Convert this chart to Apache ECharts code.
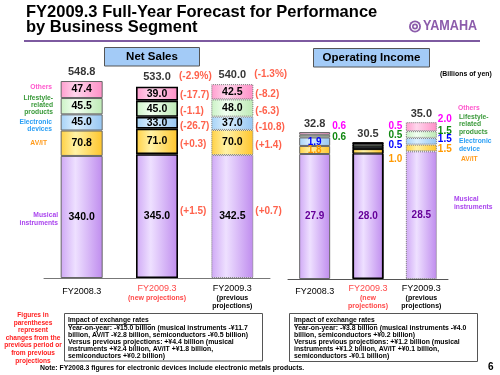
<!DOCTYPE html>
<html>
<head>
<meta charset="utf-8">
<script src="https://cdn.jsdelivr.net/npm/echarts@6/dist/echarts.min.js"></script>
<style>html,body{margin:0;padding:0;background:#fff}#c{width:500px;height:375px}</style>
</head>
<body>
<div id="c"></div>
<script>
// ---------- data ----------
const categories = ['FY2008.3', 'FY2009.3 (new projections)', 'FY2009.3 (previous projections)'];
const segmentNames = ['Musical instruments', 'AV/IT', 'Electronic devices', 'Lifestyle-related products', 'Others'];

const salesMusical    = [340.0, 345.0, 342.5];
const salesAVIT       = [70.8, 71.0, 70.0];
const salesElectronic = [45.0, 33.0, 37.0];
const salesLifestyle  = [45.5, 45.0, 48.0];
const salesOthers     = [47.4, 39.0, 42.5];
const salesTotal      = [548.8, 533.0, 540.0];
const salesTotalChange = [null, '(-2.9%)', '(-1.3%)'];

const chgMusical    = [null, '(+1.5)', '(+0.7)'];
const chgAVIT       = [null, '(+0.3)', '(+1.4)'];
const chgElectronic = [null, '(-26.7)', '(-10.8)'];
const chgLifestyle  = [null, '(-1.1)', '(-6.3)'];
const chgOthers     = [null, '(-17.7)', '(-8.2)'];

const incomeMusical    = [27.9, 28.0, 28.5];
const incomeAVIT       = [1.8, 1.0, 1.5];
const incomeElectronic = [1.9, 0.5, 1.5];
const incomeLifestyle  = [0.6, 0.5, 1.5];
const incomeOthers     = [0.6, 0.5, 2.0];
const incomeTotal      = [32.8, 30.5, 35.0];

// ---------- styles ----------
const FONT = '"Liberation Sans", Arial, sans-serif';
const grad = (a, b, c) => new echarts.graphic.LinearGradient(0, 0, 1, 0, [
  {offset: 0, color: a}, {offset: 0.35, color: b}, {offset: 1, color: c}]);
const segFill = [
  grad('#cfa8f5', '#eee0ff', '#bf8cee'),
  grad('#ffd043', '#fff2a6', '#ffc52b'),
  grad('#a6d2f6', '#daefff', '#96c6f2'),
  grad('#cbf2c5', '#f2fff1', '#bdeab5'),
  grad('#ff9dce', '#ffd6ec', '#ff8fc6')
];
const colBorderNS = [
  {borderColor: '#666', borderWidth: 1, borderType: 'solid'},
  {borderColor: '#000', borderWidth: 1.6, borderType: 'solid'},
  {borderColor: '#777', borderWidth: 1, borderType: 'dotted'}
];
const colBorderOI = [
  {borderColor: '#666', borderWidth: 1, borderType: 'solid'},
  {borderColor: '#000', borderWidth: 1, borderType: 'solid'},
  {borderColor: '#777', borderWidth: 1, borderType: 'dotted'}
];
const RED = '#ff3a1e';

const salesSeg = [salesMusical, salesAVIT, salesElectronic, salesLifestyle, salesOthers];
const chgSeg = [chgMusical, chgAVIT, chgElectronic, chgLifestyle, chgOthers];
const incomeSeg = [incomeMusical, incomeAVIT, incomeElectronic, incomeLifestyle, incomeOthers];

// label placement for operating income small segments (style only)
const incColors = ['#660099', '#ff9900', '#0000ff', '#118811', '#ff00ff'];
const incLabelPos = [
  [['inside', 0, 0], ['inside', 0, 0], ['inside', 0, 0]],
  [['inside', 0, 0], ['right', 4, 8], ['right', 0, 1]],
  [['inside', 0, 1], ['right', 4, -3], ['right', 0, -2]],
  [['right', 1, 1], ['right', 4, -10], ['right', 0, -3]],
  [['right', 1, -7], ['right', 4, -17], ['right', 0, -7]]
];
const chgOffset = [-5, 3, 4, 3, 2];

const series = [];
salesSeg.forEach((arr, s) => {
  series.push({
    name: segmentNames[s], type: 'bar', stack: 'ns', xAxisIndex: 0, yAxisIndex: 0,
    barWidth: 42,
    data: arr.map((v, i) => ({value: v, itemStyle: Object.assign({color: segFill[s]}, colBorderNS[i])})),
    label: {show: true, position: 'inside', fontFamily: FONT, fontWeight: 'bold', fontSize: 10.5, color: '#000',
      formatter: p => p.value.toFixed(1)},
    silent: true
  });
});
incomeSeg.forEach((arr, s) => {
  series.push({
    name: segmentNames[s] + ' OI', type: 'bar', stack: 'oi', xAxisIndex: 1, yAxisIndex: 1,
    barWidth: 31,
    data: arr.map((v, i) => {
      const lp = incLabelPos[s][i];
      return {value: v, itemStyle: Object.assign({color: segFill[s]}, colBorderOI[i]),
        label: {position: lp[0], offset: [lp[1], lp[2]], distance: 1}};
    }),
    label: {show: true, fontFamily: FONT, fontWeight: 'bold', fontSize: 10, color: incColors[s],
      formatter: p => p.value.toFixed(1)},
    silent: true
  });
});
// outer frame for the new-projection operating income bar (thicker black outline)
series.push({
  type: 'bar', xAxisIndex: 1, yAxisIndex: 1, barWidth: 31, barGap: '-100%', silent: true, z: 3,
  data: incomeTotal.map((v, i) => i === 1 ? {value: v, itemStyle: {color: 'none', borderColor: '#000', borderWidth: 1.6}} : {value: 0, itemStyle: {color: 'none'}})
});
const cum = [0, 0, 0];
salesSeg.forEach((arr, s) => {
  const pts = [];
  arr.forEach((v, i) => {
    if (chgSeg[s][i]) pts.push({value: [i, cum[i] + v / 2], txt: chgSeg[s][i]});
    cum[i] += v;
  });
  series.push({
    type: 'scatter', xAxisIndex: 0, yAxisIndex: 0, symbolSize: 0, silent: true,
    data: pts,
    label: {show: true, position: 'right', distance: 23, offset: [0, chgOffset[s]],
      fontFamily: FONT, fontWeight: 'bold', fontSize: 10, color: RED,
      formatter: p => p.data.txt}
  });
});
series.push({
  type: 'scatter', xAxisIndex: 0, yAxisIndex: 0, symbolSize: 0, silent: true,
  data: salesTotal.map((v, i) => ({value: [i, v], txt: v.toFixed(1)})),
  label: {show: true, position: 'top', distance: 4, fontFamily: FONT, fontWeight: 'bold', fontSize: 11, color: '#000',
    formatter: p => p.data.txt}
});
series.push({
  type: 'scatter', xAxisIndex: 0, yAxisIndex: 0, symbolSize: 0, silent: true,
  data: salesTotal.map((v, i) => ({value: [i, v], txt: salesTotalChange[i]})).filter(d => d.txt),
  label: {show: true, position: 'right', distance: 22, offset: [0, -10], fontFamily: FONT, fontWeight: 'bold',
    fontSize: 10, color: RED, formatter: p => p.data.txt}
});
series.push({
  type: 'scatter', xAxisIndex: 1, yAxisIndex: 1, symbolSize: 0, silent: true,
  data: incomeTotal.map((v, i) => ({value: [i, v], txt: v.toFixed(1)})),
  label: {show: true, position: 'top', distance: 3, fontFamily: FONT, fontWeight: 'bold', fontSize: 11, color: '#000',
    formatter: p => p.data.txt}
});

const axisLabelRich = {
  a: {fontFamily: FONT, fontSize: 9, color: '#000', padding: [4, 0, 0, 0], lineHeight: 11},
  r: {fontFamily: FONT, fontSize: 9, color: '#ff4848', lineHeight: 10},
  rs: {fontFamily: FONT, fontSize: 7, fontWeight: 'bold', color: '#ff4848', lineHeight: 8},
  k: {fontFamily: FONT, fontSize: 9, color: '#000', lineHeight: 10},
  ks: {fontFamily: FONT, fontSize: 7, fontWeight: 'bold', color: '#000', lineHeight: 8}
};
const fmtNS = (v, i) => i === 0 ? '{a|FY2008.3}' : i === 1 ? '{r|FY2009.3}\n{rs|(new projections)}'
  : '{k|FY2009.3}\n{ks|(previous}\n{ks|projections)}';
const fmtOI = (v, i) => i === 0 ? '{a|FY2008.3}' : i === 1 ? '{r|FY2009.3}\n{rs|(new}\n{rs|projections)}'
  : '{k|FY2009.3}\n{ks|(previous}\n{ks|projections)}';

const txt = (x, y, text, size, color, opts = {}) => ({
  type: 'text', x: x, y: y, scaleX: opts.scaleX || 1, silent: true,
  style: Object.assign({text: text, x: 0, y: 0, fill: color,
    font: (opts.weight || 'bold') + ' ' + size + 'px ' + FONT,
    textAlign: opts.align || 'left', textVerticalAlign: opts.valign || 'middle',
    lineHeight: opts.lh || size}, opts.style || {})
});
const SX = 0.86;
const LX = 0.84;

const graphics = [
  txt(26, 5, 'FY2009.3 Full-Year Forecast for Performance\nby Business Segment', 16.5, '#000',
    {valign: 'top', lh: 15}),
  {type: 'line', silent: true, shape: {x1: 24, y1: 41, x2: 480, y2: 41}, style: {stroke: '#7d5aa0', lineWidth: 2}},
  {type: 'circle', silent: true, shape: {cx: 415, cy: 26.5, r: 6}, style: {fill: '#8c5cab'}},
  {type: 'circle', silent: true, shape: {cx: 415, cy: 26.5, r: 3.6}, style: {fill: 'none', stroke: '#fff', lineWidth: 1.2}},
  {type: 'circle', silent: true, shape: {cx: 415, cy: 26.5, r: 1.3}, style: {fill: '#fff'}},
  txt(423, 26.5, 'YAMAHA', 14, '#8c5cab', {scaleX: 0.9}),
  {type: 'rect', silent: true, shape: {x: 104.5, y: 47.5, width: 95, height: 18.5}, style: {fill: '#a3cbf7', stroke: '#555', lineWidth: 1}},
  txt(152, 57, 'Net Sales', 11.5, '#000', {align: 'center'}),
  {type: 'rect', silent: true, shape: {x: 313.5, y: 48.5, width: 116, height: 18.5}, style: {fill: '#a3cbf7', stroke: '#555', lineWidth: 1}},
  txt(371.5, 58, 'Operating Income', 11.5, '#000', {align: 'center'}),
  txt(440, 74, '(Billions of yen)', 7.5, '#000', {scaleX: 0.92}),
  // left segment labels (net sales)
  txt(52, 87, 'Others', 8, '#ff55cc', {align: 'right', scaleX: LX}),
  txt(53, 98, 'Lifestyle-\nrelated\nproducts', 8, '#3a9a3a', {align: 'right', valign: 'top', lh: 7.2, scaleX: LX, style: {y: -4}}),
  txt(52, 122, 'Electronic\ndevices', 8, '#2a9ff5', {align: 'right', valign: 'top', lh: 7.5, scaleX: LX, style: {y: -4}}),
  txt(47, 143, 'AV/IT', 8, '#ff9a1a', {align: 'right', scaleX: LX}),
  txt(58, 215, 'Musical\ninstruments', 8, '#aa44ee', {align: 'right', valign: 'top', lh: 8, scaleX: LX, style: {y: -4}}),
  // right segment labels (operating income)
  txt(458, 108, 'Others', 8, '#ff55cc', {scaleX: LX}),
  txt(459, 117, 'Lifestyle-\nrelated\nproducts', 8, '#3a9a3a', {valign: 'top', lh: 7.5, scaleX: LX, style: {y: -4}}),
  txt(459, 141, 'Electronic\ndevice', 8, '#2a9ff5', {valign: 'top', lh: 8, scaleX: LX, style: {y: -4}}),
  txt(461, 159, 'AV/IT', 8, '#ff9a1a', {scaleX: LX}),
  txt(454, 199, 'Musical\ninstruments', 8, '#aa44ee', {valign: 'top', lh: 8, scaleX: LX, style: {y: -4}}),
  // bottom notes
  txt(33, 311, 'Figures in\nparentheses\nrepresent\nchanges from the\nprevious period or\nfrom previous\nprojections', 8, '#ff2020',
    {align: 'center', valign: 'top', lh: 7.6, scaleX: 0.82}),
  {type: 'rect', silent: true, shape: {x: 64.5, y: 313.5, width: 198, height: 47.5}, style: {fill: '#fff', stroke: '#555', lineWidth: 1}},
  txt(68, 320, 'Impact of exchange rates', 8, '#000', {scaleX: 0.84}),
  {type: 'line', silent: true, shape: {x1: 68, y1: 324.5, x2: 151, y2: 324.5}, style: {stroke: '#000', lineWidth: 0.8}},
  txt(68, 324, 'Year-on-year: -\u00a515.0 billion (musical instruments -\u00a511.7\nbillion, AV/IT -\u00a52.8 billion, semiconductors -\u00a50.5 billion)', 8, '#000',
    {scaleX: SX, valign: 'top', lh: 7.3}),
  txt(68, 338, 'Versus previous projections: +\u00a54.4 billion (musical\ninstruments +\u00a52.4 billion, AV/IT +\u00a51.8 billion,\nsemiconductors +\u00a50.2 billion)', 8, '#000',
    {scaleX: SX, valign: 'top', lh: 7.3}),
  {type: 'rect', silent: true, shape: {x: 289.5, y: 313.5, width: 188, height: 48}, style: {fill: '#fff', stroke: '#555', lineWidth: 1}},
  txt(294, 320, 'Impact of exchange rates', 8, '#000', {scaleX: 0.84}),
  {type: 'line', silent: true, shape: {x1: 294, y1: 324.5, x2: 377, y2: 324.5}, style: {stroke: '#000', lineWidth: 0.8}},
  txt(294, 324, 'Year-on-year: -\u00a53.8 billion (musical instruments -\u00a54.0\nbillion, semiconductors +\u00a50.2 billion)', 8, '#000',
    {scaleX: SX, valign: 'top', lh: 7.3}),
  txt(294, 338, 'Versus previous projections: +\u00a51.2 billion (musical\ninstruments +\u00a51.2 billion, AV/IT +\u00a50.1 billion,\nsemiconductors -\u00a50.1 billion)', 8, '#000',
    {scaleX: SX, valign: 'top', lh: 7.3}),
  txt(40, 368, 'Note: FY2008.3 figures for electronic devices include electronic metals products.', 8, '#000', {scaleX: SX}),
  txt(488, 367, '6', 10, '#000')
];

const option = {
  animation: false,
  backgroundColor: '#fff',
  grid: [
    {left: 44, width: 226, top: 62.6, bottom: 97},
    {left: 288, width: 160, top: 99.8, bottom: 96}
  ],
  xAxis: [
    {type: 'category', gridIndex: 0, data: categories,
      axisLine: {lineStyle: {color: '#777', width: 1}}, axisTick: {length: 4, lineStyle: {color: '#777'}},
      axisLabel: {interval: 0, margin: 6, formatter: fmtNS, rich: axisLabelRich}},
    {type: 'category', gridIndex: 1, data: categories,
      axisLine: {lineStyle: {color: '#555', width: 1}}, axisTick: {length: 4, lineStyle: {color: '#777'}},
      axisLabel: {interval: 0, margin: 5, formatter: fmtOI, rich: axisLabelRich}}
  ],
  yAxis: [
    {type: 'value', gridIndex: 0, min: 0, max: 600, show: false},
    {type: 'value', gridIndex: 1, min: 0, max: 40, show: false}
  ],
  series: series,
  graphic: graphics
};
const chart = echarts.init(document.getElementById('c'), null, {renderer: 'canvas'});
chart.setOption(option);
</script>
</body>
</html>
